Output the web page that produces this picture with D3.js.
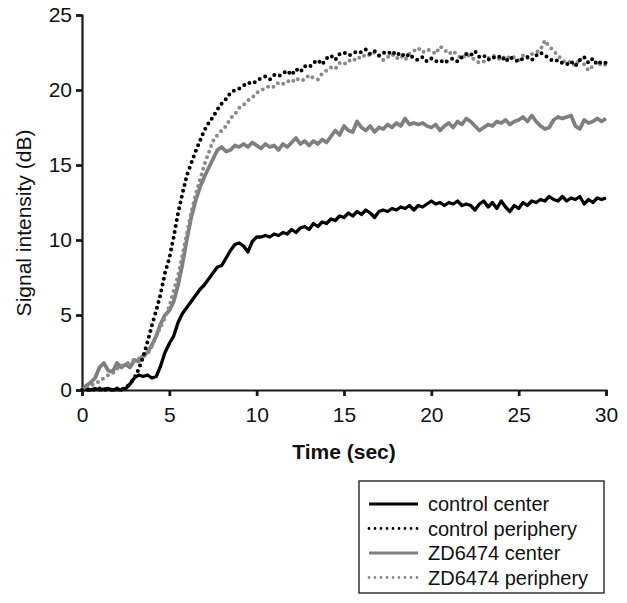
<!DOCTYPE html>
<html>
<head>
<meta charset="utf-8">
<script src="https://cdn.jsdelivr.net/npm/d3@7"></script>
<style>
  body { margin: 0; background: #fff; }
  svg text { font-family: "Liberation Sans", Arial, sans-serif; fill: #111; }
</style>
</head>
<body>
<script>
// time axis: 0..30 sec, one reading every 0.25 sec
var time = d3.range(0, 30.001, 0.25);

var xTicks = [0, 5, 10, 15, 20, 25, 30];
var yTicks = [0, 5, 10, 15, 20, 25];

var seriesNames = ["control center", "control periphery", "ZD6474 center", "ZD6474 periphery"];

// signal intensity (dB)
var controlCenter = [
  0, 0.05, 0, 0.1, 0, 0.05, 0.1, 0, 0.05, 0, 0.1, 0.4, 0.8, 1.0, 0.9, 1.0, 0.8, 0.9, 1.6, 2.5,
  3.1, 3.6, 4.5, 5.1, 5.5, 5.9, 6.3, 6.7, 7.0, 7.4, 7.8, 8.2, 8.3, 8.8, 9.3, 9.7, 9.8, 9.6, 9.2, 9.9,
  10.2, 10.2, 10.3, 10.2, 10.4, 10.3, 10.5, 10.4, 10.7, 10.5, 10.8, 10.9, 10.7, 11.1, 10.9, 11.2, 11.1, 11.4, 11.3, 11.6,
  11.5, 11.8, 11.6, 11.9, 11.7, 12.0, 11.8, 11.5, 11.9, 12.0, 11.9, 12.1, 12.0, 12.2, 12.1, 12.3, 12.0, 12.3, 12.2, 12.4,
  12.6, 12.4, 12.5, 12.3, 12.5, 12.4, 12.6, 12.3, 12.4, 12.3, 12.0, 12.4, 12.6, 12.2, 12.5, 12.1, 12.6, 12.2, 11.9, 12.3,
  12.1, 12.5, 12.3, 12.6, 12.5, 12.7, 12.6, 12.9, 12.7, 12.6, 12.9, 12.6, 12.8, 12.7, 12.9, 12.4, 12.7, 12.5, 12.8, 12.7,
  12.8
];
var controlPeriphery = [
  0, 0, 0.05, 0, 0.1, 0, 0.05, 0, 0.1, 0.05, 0.15, 0.4, 0.8, 1.4, 2.2, 3.2, 4.3, 5.3, 6.4, 7.8,
  8.8, 10.2, 11.8, 13.1, 14.3, 15.1, 15.9, 16.6, 17.3, 17.8, 18.2, 18.7, 19.1, 19.4, 19.8, 20.0, 20.1, 20.3, 20.5, 20.4,
  20.6, 20.8, 20.9, 20.7, 21.0, 20.9, 21.1, 21.3, 21.0, 21.4, 21.2, 21.6, 21.5, 21.8, 22.0, 21.7, 22.1, 22.3, 22.0, 22.4,
  22.5, 22.3, 22.4, 22.6, 22.5, 22.7, 22.4, 22.6, 22.3, 22.5, 22.4, 22.6, 22.3, 22.5, 22.2, 22.4, 22.1, 22.0, 22.2, 21.9,
  22.1, 21.9, 22.0, 21.8, 22.0, 22.1, 21.9, 22.2, 22.4, 22.3, 22.6, 22.2, 22.3, 22.0, 22.2, 22.1, 22.3, 21.9, 22.2, 22.0,
  21.9, 22.1, 22.2, 22.0, 22.3, 22.5, 22.3, 22.1, 21.9, 22.0, 21.8, 21.7, 21.9, 21.6, 22.0, 22.2, 21.8, 22.1, 21.7, 21.9,
  21.8
];
var zdCenter = [
  0, 0.3, 0.5, 0.8, 1.5, 1.8, 1.3, 1.2, 1.8, 1.5, 1.7, 1.5, 2.0, 1.9, 2.3, 2.5, 3.0, 3.6, 4.4, 5.0,
  5.3, 5.9, 7.0, 8.4, 10.0, 11.5, 12.6, 13.5, 14.2, 14.8, 15.4, 16.0, 16.2, 15.9, 16.0, 16.3, 16.2, 16.4, 16.2, 16.5,
  16.3, 16.1, 16.4, 16.2, 16.3, 16.0, 16.4, 16.2, 16.5, 16.8, 16.4, 16.6, 16.3, 16.6, 16.4, 16.7, 16.5, 16.9, 17.3, 17.0,
  17.6, 17.3, 17.2, 17.9, 17.5, 17.3, 17.6, 17.2, 17.5, 17.4, 17.7, 17.5, 17.8, 17.6, 18.1, 17.7, 17.8, 17.7, 17.8, 17.6,
  17.5, 17.7, 17.3, 17.6, 17.8, 17.5, 17.9, 17.7, 18.1, 17.9, 17.6, 17.3, 17.5, 17.7, 17.6, 17.9, 17.8, 18.0, 17.7, 17.9,
  18.0, 18.2, 17.9, 18.3, 17.9, 17.6, 17.4, 17.5, 18.0, 18.2, 18.1, 18.2, 18.3, 17.6, 17.4, 18.0, 17.8, 17.9, 18.1, 17.9,
  18.1
];
var zdPeriphery = [
  0, 0.1, 0.3, 0.4, 0.6, 0.8, 1.0, 1.1, 1.4, 1.6, 1.7, 1.9, 2.0, 2.1, 2.2, 2.4, 2.9, 3.6, 4.2, 4.8,
  5.6, 6.6, 7.6, 9.0, 10.4, 11.8, 13.0, 14.0, 15.0, 15.8, 16.6, 17.0, 17.3, 17.6, 18.1, 18.4, 18.8, 19.0, 19.3, 19.5,
  19.8, 20.0, 20.1, 20.3, 20.2, 20.5, 20.4, 20.6, 20.5, 20.8, 20.6, 20.7, 21.0, 20.8, 20.7, 21.1, 21.3, 21.5, 21.4, 21.8,
  21.7, 22.0, 21.9, 22.2, 22.1, 22.4, 22.3, 22.5, 22.3, 22.0, 22.2, 22.4, 22.1, 22.3, 22.0, 22.4, 22.6, 22.8, 22.5, 22.7,
  22.6, 22.4, 22.9, 22.7, 22.4, 22.6, 22.3, 22.1, 22.4, 22.2, 22.0, 21.8, 21.9, 22.1, 22.3, 22.2, 22.0, 22.3, 22.1, 22.2,
  22.0, 22.3, 22.1, 22.4, 22.5, 22.7, 23.3, 22.9, 22.6, 22.3, 22.0, 21.8, 21.9, 21.6, 22.1, 21.7, 21.3, 21.6, 21.9, 21.6,
  21.7
];

var width = 627, height = 603;

var svg = d3.select("body").append("svg")
  .attr("width", width)
  .attr("height", height);

var x = d3.scaleLinear().domain([0, 30]).range([82, 606]);
var y = d3.scaleLinear().domain([0, 25]).range([390, 15]);

// axes
var xAxis = svg.append("g")
  .attr("transform", "translate(0," + y(0) + ")")
  .call(d3.axisBottom(x).tickValues(xTicks).tickSize(6).tickPadding(11));
var yAxis = svg.append("g")
  .attr("transform", "translate(" + x(0) + ",0)")
  .call(d3.axisLeft(y).tickValues(yTicks).tickSize(6).tickPadding(4));

[xAxis, yAxis].forEach(function(g) {
  g.select(".domain").attr("stroke", "#1a1a1a").attr("stroke-width", 2.2);
  g.selectAll(".tick line").attr("stroke", "#1a1a1a").attr("stroke-width", 2.8);
  g.selectAll(".tick text")
    .attr("font-size", 21)
    .attr("font-family", "Liberation Sans, Arial, sans-serif")
    .attr("fill", "#111");
});

svg.append("text")
  .attr("x", (x(0) + x(30)) / 2)
  .attr("y", 459)
  .attr("text-anchor", "middle")
  .attr("font-size", 21)
  .attr("font-weight", "bold")
  .text("Time (sec)");

svg.append("text")
  .attr("transform", "translate(31,223) rotate(-90)")
  .attr("text-anchor", "middle")
  .attr("font-size", 21)
  .text("Signal intensity (dB)");

// lines
var styles = [
  { data: controlCenter, color: "#000", width: 3.3, dash: null },
  { data: controlPeriphery, color: "#000", width: 4, dash: "0,6" },
  { data: zdCenter, color: "#7f7f7f", width: 3.8, dash: null },
  { data: zdPeriphery, color: "#8a8a8a", width: 4, dash: "0,6" }
];

var line = d3.line()
  .x(function(d, i) { return x(time[i]); })
  .y(function(d) { return y(d); });

var drawOrder = [0, 2, 3, 1];
drawOrder.forEach(function(k) {
  var s = styles[k];
  svg.append("path")
    .datum(s.data)
    .attr("d", line)
    .attr("fill", "none")
    .attr("stroke", s.color)
    .attr("stroke-width", s.width)
    .attr("stroke-linecap", s.dash ? "round" : "butt")
    .attr("stroke-linejoin", "round")
    .attr("stroke-dasharray", s.dash);
});

// legend
var legend = svg.append("g");
legend.append("rect")
  .attr("x", 359).attr("y", 481)
  .attr("width", 245).attr("height", 112)
  .attr("fill", "#fff")
  .attr("stroke", "#333")
  .attr("stroke-width", 1.5);

seriesNames.forEach(function(name, i) {
  var s = styles[i];
  var ly = 504 + i * 24.5;
  legend.append("line")
    .attr("x1", 369).attr("x2", 418)
    .attr("y1", ly).attr("y2", ly)
    .attr("stroke", s.color)
    .attr("stroke-width", s.dash ? 2.8 : 3.2)
    .attr("stroke-linecap", s.dash ? "round" : "butt")
    .attr("stroke-dasharray", s.dash ? "0,6" : null);
  legend.append("text")
    .attr("x", 428)
    .attr("y", ly + 7)
    .attr("font-size", 20)
    .text(name);
});
</script>
</body>
</html>
